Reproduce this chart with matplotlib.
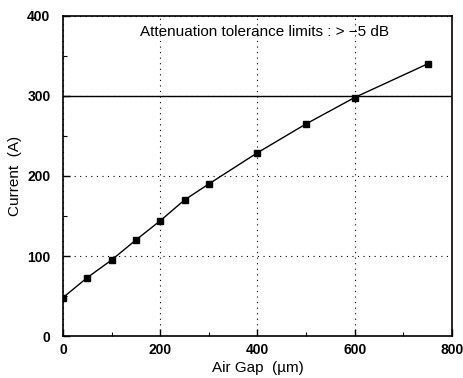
import numpy as np
import matplotlib
matplotlib.use("Agg")
import matplotlib.pyplot as plt
from matplotlib.ticker import MultipleLocator

# data
air_gap = [0, 50, 100, 150, 200, 250, 300, 400, 500, 600, 750]
current = [48, 73, 95, 120, 144, 170, 190, 229, 265, 298, 340]
limit_current = 300

plt.rcParams['font.family'] = ['Liberation Sans', 'DejaVu Sans']

fig = plt.figure(figsize=(4.63, 3.78), dpi=100)
ax = fig.add_axes([0.136, 0.111, 0.84, 0.847])

ax.plot(air_gap, current, color='black', lw=1.0, marker='s', ms=5,
        mfc='black', mec='black', zorder=3)
ax.axhline(limit_current, color='black', lw=1.0, zorder=2)

ax.set_xlim(0, 800)
ax.set_ylim(0, 400)
ax.xaxis.set_major_locator(MultipleLocator(200))
ax.xaxis.set_minor_locator(MultipleLocator(100))
ax.yaxis.set_major_locator(MultipleLocator(100))
ax.yaxis.set_minor_locator(MultipleLocator(50))
ax.tick_params(which='both', direction='in', top=False, right=False)
ax.tick_params(which='major', length=5, width=1.0, labelsize=10)
ax.tick_params(axis='x', which='major', pad=5)
ax.tick_params(axis='y', which='major', pad=9)
ax.tick_params(which='minor', length=3, width=0.8)
for lab in ax.get_xticklabels() + ax.get_yticklabels():
    lab.set_fontweight('bold')

ax.grid(True, which='major', linestyle=(0, (1, 4)), color='black', lw=0.8)

for s in ax.spines.values():
    s.set_linewidth(1.2)

ax.set_xlabel('Air Gap  (\u00b5m)', fontsize=11, labelpad=3)
ax.set_ylabel('Current  (A)', fontsize=11, labelpad=4)

ax.text(0.517, 0.97, 'Attenuation tolerance limits : > \u22125 dB',
        transform=ax.transAxes, ha='center', va='top', fontsize=11)

fig.savefig('out.png', dpi=100)
